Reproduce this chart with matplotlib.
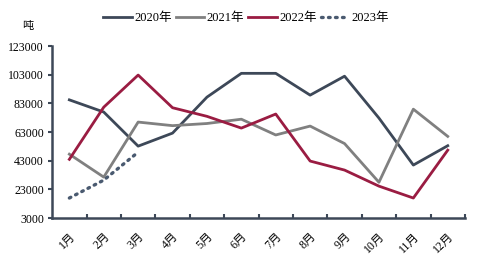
import numpy as np
import matplotlib.pyplot as plt
from matplotlib.ticker import FixedLocator

plt.rcParams['font.family'] = ['Liberation Serif', 'Noto Sans CJK SC', 'DejaVu Sans']

months = ['1月', '2月', '3月', '4月', '5月', '6月', '7月', '8月', '9月', '10月', '11月', '12月']
y2020 = [85500, 77000, 53200, 62300, 87400, 104000, 104000, 88800, 102000, 72800, 40000, 53500]
y2021 = [47600, 31600, 70000, 67500, 69000, 72000, 61000, 67200, 55000, 28000, 79000, 60000]
y2022 = [44000, 80400, 102800, 80000, 74000, 65800, 75600, 42800, 36500, 25300, 17000, 50400]
y2023 = [17000, 29500, 49000]

x = np.arange(len(months))

fig = plt.figure(figsize=(4.92, 2.65), dpi=100)
ax = fig.add_axes([0.106, 0.177, 0.839, 0.649])

ax.plot(x, y2020, color='#3d4858', lw=2.0, label='2020年')
ax.plot(x, y2021, color='#808080', lw=2.0, label='2021年')
ax.plot(x, y2022, color='#9a1c42', lw=2.0, label='2022年')
ax.plot(x[:len(y2023)], y2023, color='#4a5a70', lw=2.4, ls=(0, (0.5, 1.6)),
        dash_capstyle='round', label='2023年')

ax.set_xlim(-0.5, 11.5)
ax.set_ylim(3000, 123000)
ax.set_yticks(np.arange(3000, 123001, 20000))
ax.tick_params(axis='y', labelsize=8.5, length=3, width=1.5, color='#3d4858', pad=3)

ax.set_xticks(x)
ax.set_xticklabels(months, rotation=45, ha='right', rotation_mode='anchor', fontsize=8.5)
ax.tick_params(axis='x', which='major', length=0, pad=9)
ax.xaxis.set_minor_locator(FixedLocator(np.arange(0.5, 11.6, 1)))
ax.tick_params(axis='x', which='minor', direction='in', length=3, width=1.5, color='#3d4858')

for s in ['top', 'right']:
    ax.spines[s].set_visible(False)
for s in ['left', 'bottom']:
    ax.spines[s].set_color('#3d4858')
    ax.spines[s].set_linewidth(1.8)

fig.text(0.045, 0.89, '吨', fontsize=8)

ax.legend(loc='lower center', bbox_to_anchor=(0.47, 1.1), ncol=4, frameon=False,
          fontsize=9, handlelength=2.3, handletextpad=0.2, columnspacing=0.3,
          borderaxespad=0)

fig.savefig('out.png', dpi=100)
